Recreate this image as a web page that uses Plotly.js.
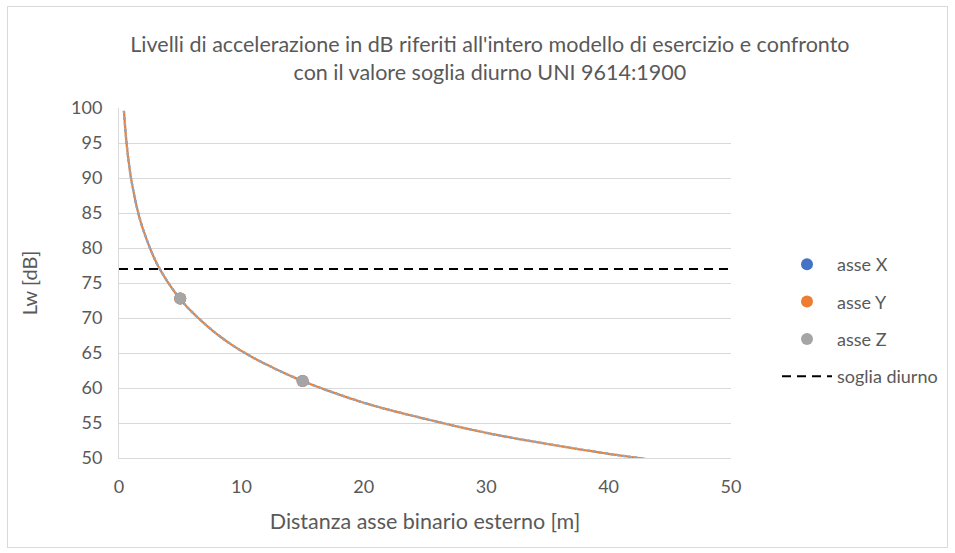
<!DOCTYPE html>
<html>
<head>
<meta charset="utf-8">
<script src="https://cdn.plot.ly/plotly-3.0.1.min.js"></script>
<style>
html,body{margin:0;padding:0;background:#fff;}
#wrap{position:relative;width:955px;height:553px;}
#chart{width:955px;height:553px;}
#frame{position:absolute;left:7px;top:6px;width:939px;height:540px;border:1px solid #D9D9D9;pointer-events:none;}
</style>
</head>
<body>
<div id="wrap"><div id="chart"></div><div id="frame"></div></div>
<script>
// Measured points (distance [m], level [dB])
const pointDist = [5, 15];
const asseX = [72.8, 61.0];
const asseY = [72.8, 61.0];
const asseZ = [72.8, 61.0];

// Trend curve
const trendDist = [0.4, 0.6, 0.8, 1, 1.5, 2, 3, 4, 5, 6, 8, 10, 12, 15, 20, 25, 30, 35, 40, 43.3];
const trendLw   = [99.6, 95.3, 92.2, 89.8, 85.5, 82.5, 78.1, 75.1, 72.7, 70.8, 67.7, 65.3, 63.4, 61.0, 57.9, 55.6, 53.6, 52.0, 50.6, 49.8];

// Threshold (soglia diurno)
const sogliaDist = [0, 50];
const sogliaLw = [77, 77];

const xTicks = [0, 10, 20, 30, 40, 50];
const yTicks = [50, 55, 60, 65, 70, 75, 80, 85, 90, 95, 100];

const FONT = 'Lato, "Open Sans", sans-serif';
const GREY = '#595959';

const traces = [
  {x: trendDist, y: trendLw, mode: 'lines', line: {color: '#4472C4', width: 2.25, shape: 'spline', dash: '3px,3px'}, showlegend: false, hoverinfo: 'skip'},
  {x: trendDist, y: trendLw, mode: 'lines', line: {color: '#ED7D31', width: 2.25, shape: 'spline', dash: '0px,3px,3px,0px'}, showlegend: false, hoverinfo: 'skip'},
  {x: trendDist, y: trendLw, mode: 'lines', line: {color: '#A5A5A5', width: 2.25, shape: 'spline', dash: '3px,3px'}, showlegend: false, hoverinfo: 'skip'},
  {x: pointDist, y: asseX, name: 'asse X', mode: 'markers', legendgroup: 'a', marker: {color: '#4472C4', size: 12}},
  {x: pointDist, y: asseY, name: 'asse Y', mode: 'markers', legendgroup: 'b', marker: {color: '#ED7D31', size: 12}},
  {x: pointDist, y: asseZ, name: 'asse Z', mode: 'markers', legendgroup: 'c', marker: {color: '#A5A5A5', size: 12}},
  {x: sogliaDist, y: sogliaLw, name: 'soglia diurno', mode: 'lines', legendgroup: 'd', line: {color: '#000000', width: 2, dash: '9px,6px'}}
];

const layout = {
  width: 955, height: 553,
  margin: {l: 119, r: 224, t: 108, b: 95},
  paper_bgcolor: '#ffffff', plot_bgcolor: '#ffffff',
  font: {family: FONT, color: GREY, size: 18},
  title: {
    text: "Livelli di accelerazione in dB riferiti all'intero modello di esercizio e confronto<br>con il valore soglia diurno UNI 9614:1900",
    font: {family: FONT, size: 21.5, color: GREY},
    x: 0.513, xref: 'container', xanchor: 'center',
    y: 0.906, yref: 'container', yanchor: 'middle'
  },
  xaxis: {
    range: [0, 50], tickvals: xTicks, showgrid: false, zeroline: false,
    showline: true, linecolor: '#D9D9D9', linewidth: 1,
    ticks: '', ticklabelstandoff: 12,
    tickfont: {family: FONT, size: 18, color: GREY},
    title: {text: 'Distanza asse binario esterno [m]', font: {family: FONT, size: 21.5, color: GREY}, standoff: 18}
  },
  yaxis: {
    range: [50, 100], tickvals: yTicks, showgrid: true, gridcolor: '#D9D9D9', gridwidth: 1,
    zeroline: false, showline: true, linecolor: '#D9D9D9', linewidth: 1,
    ticks: '', ticklabelstandoff: 12,
    tickfont: {family: FONT, size: 18, color: GREY},
    title: {text: 'Lw [dB]', font: {family: FONT, size: 20, color: GREY}, standoff: 28}
  },
  legend: {
    x: 1 + 46 / 612, xref: 'paper', xanchor: 'left', y: 0.393, yanchor: 'middle',
    font: {family: FONT, size: 18, color: GREY},
    traceorder: 'grouped', tracegroupgap: 11,
    bgcolor: 'rgba(0,0,0,0)', itemwidth: 50
  },
  showlegend: true
};

Plotly.newPlot('chart', traces, layout, {displayModeBar: false, staticPlot: true});
</script>
</body>
</html>
